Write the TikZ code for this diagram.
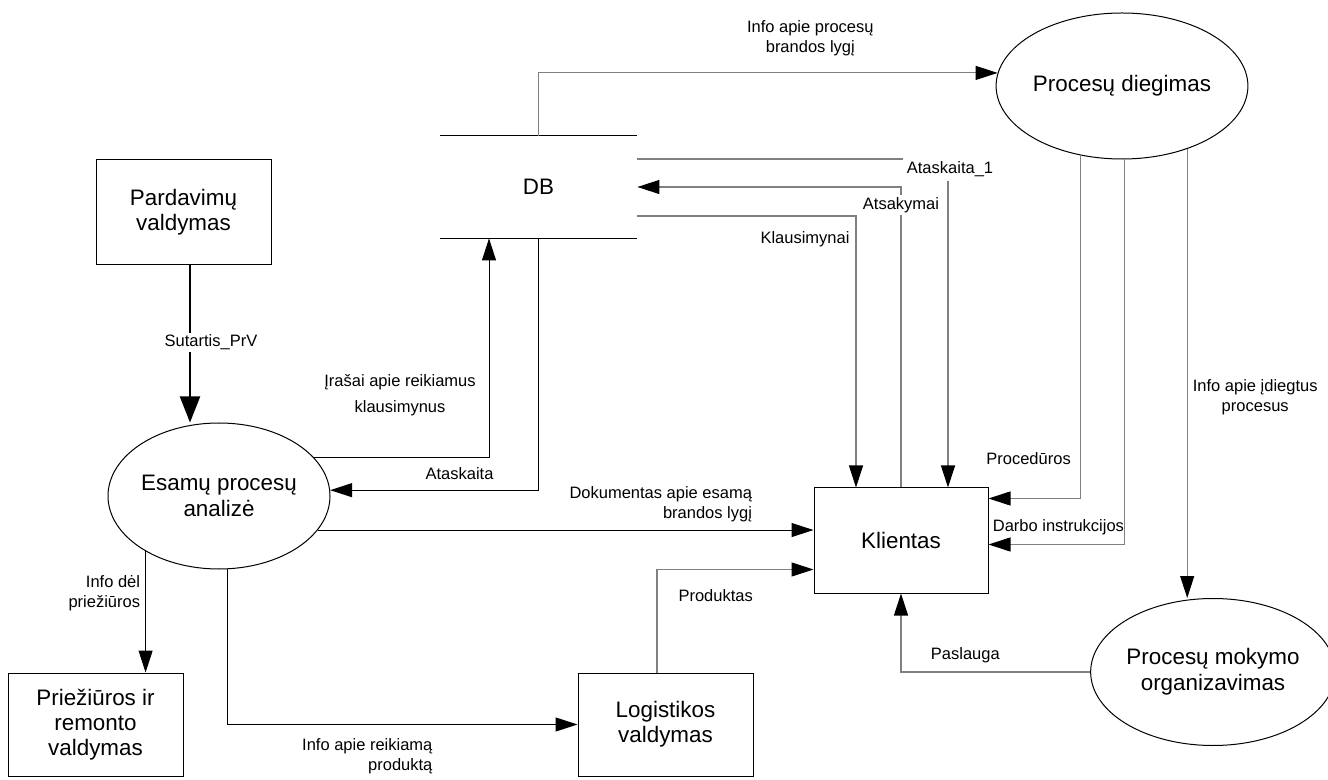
\documentclass[tikz,border=0pt]{standalone}
\usepackage{fontspec}
\setmainfont{Liberation Sans}
\usetikzlibrary{arrows.meta,shapes.geometric,calc}

\begin{document}
\begin{tikzpicture}[x=0.5pt, y=-0.5pt,
  entity/.style={draw, line width=0.5pt, minimum width=87.5pt, minimum height=51.5pt,
                 align=center, inner sep=2pt, font=\fontsize{11.2}{12.5}\selectfont},
  process/.style={draw, ellipse, line width=0.5pt, minimum width=111pt, minimum height=73pt,
                  align=center, inner sep=0pt, font=\fontsize{11.2}{13}\selectfont},
  datastore/.style={minimum width=98.5pt, minimum height=51pt, inner sep=0pt,
                    font=\fontsize{11.2}{13}\selectfont},
  flow/.style={-{Triangle[length=11pt, width=7pt, color=black]}, draw=black!50, line width=0.55pt},
  flowdark/.style={flow, draw=black, line width=0.5pt},
  lbl/.style={font=\fontsize{8.25}{10}\selectfont, inner sep=1pt, align=center},
  lblmask/.style={lbl, fill=white}
]
  \useasboundingbox (0,0) rectangle (1328,780);

  % -- external entities --
  \node[entity, minimum height=52.5pt] (pard) at (183.5,212.5) {Pardavimų\\valdymas};
  \node[entity] (prie) at (95.5,724.5) {Priežiūros ir\\remonto\\valdymas};
  \node[entity] (log) at (665.5,724.5) {Logistikos\\valdymas};
  \node[entity, minimum width=87pt, minimum height=52.5pt] (klient) at (901,540.5) {Klientas};

  % -- processes --
  \node[process] (esam) at (219,496) {Esamų procesų\\analizė};
  \node[process, minimum width=110pt] (dieg) at (1122,86) {Procesų diegimas};
  \node[process, minimum width=109pt, minimum height=73.5pt] (mok) at (1213,672) {Procesų mokymo\\organizavimas};

  % -- data store --
  \node[datastore] (db) at (538.5,187) {DB};
  \draw[line width=0.5pt] (db.north west) -- (db.north east) (db.south west) -- (db.south east);

  % -- helper points --
  \coordinate (sutout) at ([xshift=3.25pt]pard.south);
  \coordinate (dbin) at ([xshift=-24.75pt]db.south);
  \coordinate (a1out) at ([yshift=14pt]db.east);
  \coordinate (a1in) at ([xshift=23.5pt]klient.north);
  \coordinate (kout) at ([yshift=-14.5pt]db.east);
  \coordinate (kin) at ([xshift=-22.5pt]klient.north);
  \coordinate (procin) at ([yshift=21pt]klient.east);
  \coordinate (darbin) at ([yshift=-2pt]klient.east);
  \coordinate (prodout) at ([xshift=-4.25pt]log.north);
  \coordinate (prodin) at ([yshift=-14.5pt]klient.west);

  % -- flows --
  \draw[flowdark, line width=1pt, -{Triangle[length=13pt, width=10pt]}] (sutout) -- (sutout |- esam.north)
    node[lblmask, pos=0.49, xshift=10.5pt] {Sutartis\_PrV};
  \draw[flowdark] (esam.22) -| (dbin)
    node[lbl, pos=0.5, xshift=-44.5pt, yshift=31pt, font=\fontsize{8.25}{13}\selectfont] {Įrašai apie reikiamus\\klausimynus};
  \draw[flowdark] (db.south) |- (esam.3)
    node[lbl, pos=0.5, xshift=-39.5pt, yshift=8.5pt] {Ataskaita};
  \draw[flow] (db.north) |- (dieg.174)
    node[lbl, pos=0.796, yshift=17.5pt] {Info apie procesų\\brandos lygį};
  \draw[flow] (a1out) -| (a1in)
    node[lblmask, pos=0.5, xshift=1pt, yshift=-5pt, inner sep=2pt] {Ataskaita\_1};
  \draw[flow] (klient.north) |- (db.east)
    node[lblmask, pos=0.47] {Atsakymai};
  \draw[flow] (kout) -| (kin)
    node[lbl, pos=0.5, anchor=east, xshift=-2pt, yshift=-11.5pt] {Klausimynai};
  \draw[flow] (dieg.239) |- (procin)
    node[lbl, pos=0.5, anchor=east, xshift=-3.5pt, yshift=20pt] {Procedūros};
  \draw[flow] (dieg.272) |- (darbin)
    node[lbl, pos=0.5, anchor=east, xshift=1pt, yshift=8.5pt] {Darbo instrukcijos};
  \draw[flow] (dieg.316) -- (dieg.316 |- mok.north)
    node[lbl, pos=0.553, xshift=34pt] {Info apie įdiegtus\\procesus};
  \draw[flow] (mok.west) -| (klient.south)
    node[lbl, pos=0.33, yshift=8.5pt] {Paslauga};
  \draw[flowdark] (esam.341) -- (esam.341 -| klient.west)
    node[lbl, pos=0.881, anchor=south east, yshift=3pt, align=right] {Dokumentas apie esamą\\brandos lygį};
  \draw[flow] (prodout) |- (prodin)
    node[lbl, pos=0.375, anchor=west, xshift=9.5pt] {Produktas};
  \draw[flowdark] (esam.277) |- (log.west)
    node[lbl, pos=0.796, anchor=north east, yshift=-6pt, align=right] {Info apie reikiamą\\produktą};
  \draw[flowdark] (esam.217) -- (esam.217 |- prie.north)
    node[lbl, pos=0.35, anchor=east, xshift=-1.5pt, align=right] {Info dėl\\priežiūros};
\end{tikzpicture}
\end{document}
